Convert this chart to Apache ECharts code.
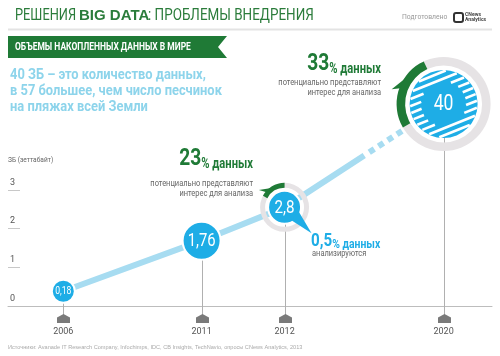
<!DOCTYPE html>
<html><head><meta charset="utf-8">
<script src="https://cdn.jsdelivr.net/npm/echarts@6/dist/echarts.min.js"></script>
<style>html,body{margin:0;padding:0;background:#fff}#c{width:500px;height:356px}</style>
</head><body><div id="c"></div>
<script>
// ---------- data ----------
const years = ['2006', '2011', '2012', '2020'];
const volumes = [0.18, 1.76, 2.8, 40];            // ЗБ (зеттабайт)
const yTickLabels = [0, 1, 2, 3];
const yTickMarks = [1, 2, 3];
const solidPart = [0, 1, 2];                       // indices joined by solid line
const dottedPart = [2, 3];                         // indices joined by dotted line

// ---------- layout / style ----------
const SLOT_COUNT = 71;
const YEAR_SLOTS = [8, 28, 40, 63];
const GRID_AXIS = { left: 8, right: 8, top: 190, bottom: 50 };
const GRID_DATA = { left: 8, right: 8, top: 72, bottom: 59 };
const AXIS_GAP = GRID_DATA.bottom - GRID_AXIS.bottom;

const NARROW = 'Roboto,"Liberation Sans",sans-serif';
const SANS = '"Liberation Sans",Arial,sans-serif';
const GREEN = '#1f7a36';
const TITLE_GREEN = '#2b7c3b';
const BLUE = '#1eade6';
const LINE_BLUE = '#a7dcf1';
const TEXT_BLUE = '#8dd4eb';
const RING_GRAY = '#e6e3e5';

const BUBBLES = [
  { r: 11.5, font: 11, sx: 0.78 },
  { r: 19, font: 19, sx: 0.78 },
  { r: 16.5, font: 19, sx: 0.8, ring: [19.5, 24.5], arc: [90, 152], barb: [124, 140, 31, 146], tail: [-16, -62, 27, 26] },
  { r: 34, font: 22, sx: 0.8, ring: [38.5, 47], arc: [115, 210], barb: [146, 160, 54, 164], stripes: { rIn: 22.5, gap: 6.6, width: 2.6, angle: 22 } }
];

const categories = Array.from({ length: SLOT_COUNT }, () => '');
years.forEach((y, i) => { categories[YEAR_SLOTS[i]] = y; });
const points = years.map((y, i) => [YEAR_SLOTS[i], volumes[i]]);
const fmt = v => String(v).replace('.', ',');

function polar(cx, cy, r, deg) {
  const a = deg * Math.PI / 180;
  return [cx + r * Math.cos(a), cy - r * Math.sin(a)];
}

function renderBubble(params, api) {
  const i = params.dataIndex;
  const s = BUBBLES[i];
  const p = api.coord([api.value(0), api.value(1)]);
  const b = api.coord([api.value(0), 0]);
  const cx = p[0], cy = p[1];
  const axisY = b[1] + AXIS_GAP;
  const lx = Math.round(cx) + 0.5;
  const kids = [];
  kids.push({ type: 'line', shape: { x1: lx, y1: cy, x2: lx, y2: axisY + 9 }, style: { stroke: '#b0b0b0', lineWidth: 1 } });
  kids.push({ type: 'polygon', shape: { points: [[lx - 6.5, axisY + 11.5], [lx, axisY + 8], [lx + 6.5, axisY + 11.5], [lx + 6.5, axisY + 17], [lx - 6.5, axisY + 17]] }, style: { fill: '#7a7a7a' } });
  if (s.ring) {
    kids.push({ type: 'ring', shape: { cx, cy, r: s.ring[1], r0: s.ring[0] }, style: { fill: RING_GRAY } });
    kids.push({ type: 'sector', shape: { cx, cy, r0: s.ring[0], r: s.ring[1], startAngle: -s.arc[1] * Math.PI / 180, endAngle: -s.arc[0] * Math.PI / 180, clockwise: true }, style: { fill: GREEN } });
    const [a1, a2, rt, at] = s.barb;
    kids.push({ type: 'polygon', shape: { points: [polar(cx, cy, s.ring[1] - 1, a1), polar(cx, cy, s.ring[1] - 1, a2), polar(cx, cy, rt, at)] }, style: { fill: GREEN } });
  }
  kids.push({ type: 'circle', shape: { cx, cy, r: s.r }, style: { fill: BLUE, stroke: '#fff', lineWidth: s.stripes ? 0 : 2 } });
  if (s.tail) {
    const [t1, t2, dx, dy] = s.tail;
    kids.push({ type: 'polygon', shape: { points: [polar(cx, cy, s.r - 2, t1), polar(cx, cy, s.r - 2, t2), [cx + dx, cy + dy]] }, style: { fill: BLUE } });
  }
  if (s.stripes) {
    const st = s.stripes;
    const a = st.angle * Math.PI / 180;
    const ux = Math.cos(a), uy = -Math.sin(a);
    const nx = Math.sin(a), ny = Math.cos(a);
    const R = s.r - 0.5;
    for (let d = -R + st.gap / 2; d < R; d += st.gap) {
      const to = Math.sqrt(R * R - d * d);
      let segs;
      if (Math.abs(d) < st.rIn) {
        const ti = Math.sqrt(st.rIn * st.rIn - d * d);
        segs = [[-to, -ti], [ti, to]];
      } else segs = [[-to, to]];
      segs.forEach(([u1, u2]) => {
        if (u2 - u1 < 0.8) return;
        kids.push({ type: 'line', shape: { x1: cx + nx * d + ux * u1, y1: cy + ny * d + uy * u1, x2: cx + nx * d + ux * u2, y2: cy + ny * d + uy * u2 }, style: { stroke: '#fff', lineWidth: st.width } });
      });
    }
  }
  kids.push({ type: 'text', x: cx, y: cy + 0.5, scaleX: s.sx, style: { text: fmt(api.value(1)), x: 0, y: 0, align: 'center', verticalAlign: 'middle', fill: '#fff', fontSize: s.font, fontFamily: NARROW } });
  return { type: 'group', children: kids };
}

const chart = echarts.init(document.getElementById('c'), null, { renderer: 'canvas' });

function bigPct(x, y, num, align, numSize, restSize, color, sx) {
  const tok = { fontWeight: 'bold', fontFamily: NARROW, fill: color, verticalAlign: 'bottom' };
  return { type: 'text', x: x, y: y, scaleX: sx, style: { text: '{n|' + num + '}{p|%}{d| данных}', align: align, verticalAlign: 'bottom',
    rich: { n: Object.assign({ fontSize: numSize }, tok), p: Object.assign({ fontSize: restSize }, tok), d: Object.assign({ fontSize: restSize }, tok) } } };
}

const graphic = [
  { type: 'text', x: 15, y: 16, scaleX: 0.8, style: { text: 'РЕШЕНИЯ', fontSize: 16, fontFamily: NARROW, fill: TITLE_GREEN, verticalAlign: 'middle' } },
  { type: 'text', x: 79, y: 16, style: { text: 'BIG DATA', fontSize: 15, fontWeight: 'bold', fontFamily: SANS, fill: TITLE_GREEN, verticalAlign: 'middle' } },
  { type: 'text', x: 148, y: 16, scaleX: 0.84, style: { text: ': ПРОБЛЕМЫ ВНЕДРЕНИЯ', fontSize: 16, fontFamily: NARROW, fill: TITLE_GREEN, verticalAlign: 'middle' } },
  { type: 'text', x: 402, y: 17, scaleX: 0.85, style: { text: 'Подготовлено', fontSize: 8, fontFamily: NARROW, fill: '#999', verticalAlign: 'middle' } },
  { type: 'rect', shape: { x: 454, y: 13, width: 9, height: 9, r: 2 }, style: { fill: 'none', stroke: '#333', lineWidth: 2 } },
  { type: 'text', x: 465, y: 17, scaleX: 0.85, style: { text: 'CNews\nAnalytics', fontSize: 6, lineHeight: 5.5, fontWeight: 'bold', fontFamily: NARROW, fill: '#444', verticalAlign: 'middle' } },
  { type: 'line', shape: { x1: 8, y1: 29.5, x2: 492, y2: 29.5 }, style: { stroke: '#e3e3e3', lineWidth: 2 } },
  { type: 'polygon', shape: { points: [[8, 36], [227, 36], [218, 47], [227, 58], [8, 58]] }, style: { fill: GREEN } },
  { type: 'text', x: 15, y: 47, scaleX: 0.77, style: { text: 'ОБЪЕМЫ НАКОПЛЕННЫХ ДАННЫХ В МИРЕ', fontSize: 11, fontWeight: 'bold', fontFamily: NARROW, fill: '#fff', verticalAlign: 'middle' } },
  { type: 'text', x: 10, y: 67, scaleX: 0.86, style: { text: '40 ЗБ – это количество данных,\nв 57 большее, чем число песчинок\nна пляжах всей Земли', fontSize: 15, lineHeight: 16, fontWeight: 'bold', fontFamily: NARROW, fill: TEXT_BLUE } },
  { type: 'text', x: 8, y: 160, scaleX: 0.88, style: { text: 'ЗБ (зеттабайт)', fontSize: 7.5, fontFamily: NARROW, fill: '#666', verticalAlign: 'middle' } },
  bigPct(253, 171, '23', 'right', 24, 14, GREEN, 0.8),
  { type: 'text', x: 253, y: 179, scaleX: 0.88, style: { text: 'потенциально представляют\nинтерес для анализа', align: 'right', fontSize: 8.5, lineHeight: 10, fontFamily: NARROW, fill: '#666' } },
  bigPct(381, 76, '33', 'right', 24, 14, GREEN, 0.8),
  { type: 'text', x: 381, y: 78, scaleX: 0.88, style: { text: 'потенциально представляют\nинтерес для анализа', align: 'right', fontSize: 8.5, lineHeight: 10, fontFamily: NARROW, fill: '#666' } },
  bigPct(311, 251, '0,5', 'left', 19, 13, BLUE, 0.8),
  { type: 'text', x: 312, y: 254, scaleX: 0.88, style: { text: 'анализируются', fontSize: 8.5, fontFamily: NARROW, fill: '#666', verticalAlign: 'middle' } },
  { type: 'text', x: 8, y: 347, style: { text: 'Источники: Avanade IT Research Company, Infochimps, IDC, CB Insights, TechNavio, опросы CNews Analytics, 2013', fontSize: 5.6, fontFamily: SANS, fill: '#aaa', verticalAlign: 'middle' } }
];

chart.setOption({
  animation: false,
  backgroundColor: '#fff',
  grid: [
    Object.assign({ outerBoundsMode: 'none' }, GRID_AXIS),
    Object.assign({ outerBoundsMode: 'none' }, GRID_DATA)
  ],
  xAxis: [
    { type: 'category', gridIndex: 0, data: categories, boundaryGap: false,
      axisLine: { lineStyle: { color: '#bdbdbd', width: 1 } }, axisTick: { show: false },
      axisLabel: { interval: 0, margin: 21, color: '#555', fontSize: 9, fontFamily: NARROW } },
    { type: 'category', gridIndex: 1, data: categories, boundaryGap: false, show: false }
  ],
  yAxis: [
    { type: 'value', gridIndex: 0, min: 0, max: 3, interval: 1, splitLine: { show: false }, axisLine: { show: false },
      axisTick: { show: true, inside: true, length: 12, customValues: yTickMarks, lineStyle: { color: '#c8c8c8' } },
      axisLabel: { inside: true, customValues: yTickLabels, margin: 2, verticalAlign: 'bottom', padding: [0, 0, 3, 0], color: '#555', fontSize: 9, fontFamily: NARROW } },
    { type: 'value', gridIndex: 1, min: 0, max: 41, show: false, splitLine: { show: false },
      breaks: [{ start: 3.3, end: 39, gap: '24.6%' }],
      breakArea: { show: false, itemStyle: { color: 'transparent', borderColor: 'transparent', opacity: 0 } } }
  ],
  graphic: graphic,
  series: [
    { type: 'line', xAxisIndex: 1, yAxisIndex: 1, data: solidPart.map(i => points[i]), symbol: 'none', clip: false,
      lineStyle: { color: LINE_BLUE, width: 6 }, z: 2 },
    { type: 'line', xAxisIndex: 1, yAxisIndex: 1, data: dottedPart.map(i => points[i]), symbol: 'none', clip: false,
      lineStyle: { color: LINE_BLUE, width: 6, type: [95, 6, 6, 5, 6, 5, 6, 5, 6, 5, 6, 400], cap: 'butt' }, z: 2 },
    { type: 'custom', xAxisIndex: 1, yAxisIndex: 1, data: points, renderItem: renderBubble, clip: false, z: 3 }
  ]
});
</script></body></html>
